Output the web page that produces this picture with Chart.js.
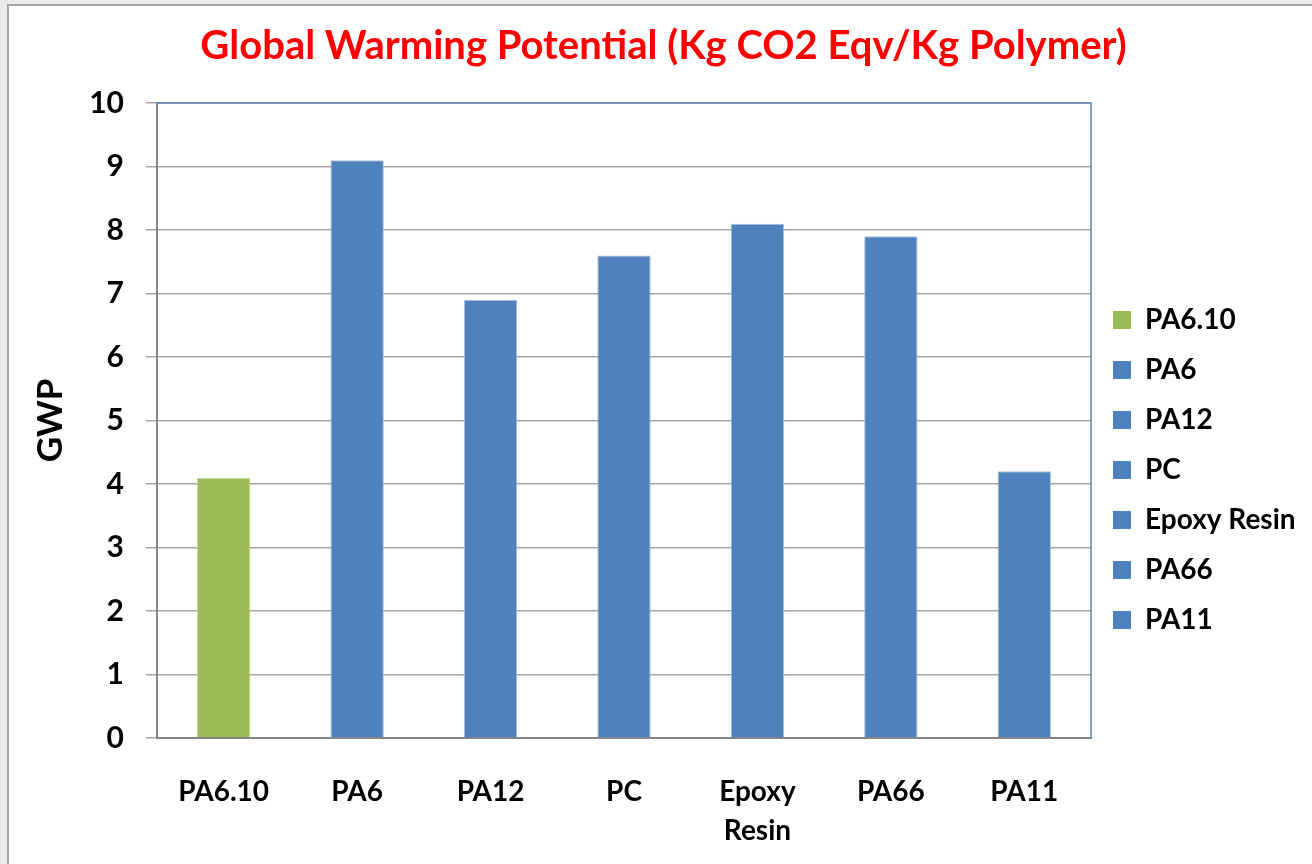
<!DOCTYPE html>
<html>
<head>
<meta charset="utf-8">
<script src="https://cdn.jsdelivr.net/npm/chart.js@4/dist/chart.umd.min.js"></script>
<style>
  html, body { margin: 0; padding: 0; background: #ebebeb; overflow: hidden; }
  .frame {
    position: absolute; left: 7px; top: 4px; width: 1400px; height: 1000px;
    border: 2px solid #a6a6a6; background: #ffffff;
  }
  .wrap { position: absolute; left: 0; top: 0; width: 1312px; height: 864px; }
</style>
</head>
<body>
<div class="frame"></div>
<div class="wrap"><canvas id="gwp"></canvas></div>
<script>
const polymers = ["PA6.10", "PA6", "PA12", "PC", ["Epoxy", "Resin"], "PA66", "PA11"];
const legendNames = ["PA6.10", "PA6", "PA12", "PC", "Epoxy Resin", "PA66", "PA11"];
const gwpValues = [4.1, 9.1, 6.9, 7.6, 8.1, 7.9, 4.2];
const yTicks = [0, 1, 2, 3, 4, 5, 6, 7, 8, 9, 10];

const GREEN = "#9bbb59";
const BLUE = "#4f81bd";
const barColors = polymers.map((p, i) => (i === 0 ? GREEN : BLUE));
const barEdges = polymers.map((p, i) => (i === 0 ? "#c3d69b" : "#a7bfde"));

// blue border on top and right of the plot area
const plotFrame = {
    id: "plotFrame",
    afterDraw(chart) {
        const { ctx, chartArea: a } = chart;
        ctx.save();
        ctx.strokeStyle = "#5b87c0";
        ctx.lineWidth = 1.5;
        ctx.beginPath();
        ctx.moveTo(a.left, a.top);
        ctx.lineTo(a.right, a.top);
        ctx.lineTo(a.right, a.bottom);
        ctx.stroke();
        ctx.restore();
    },
};

const ctx = document.getElementById("gwp").getContext("2d");

new Chart(ctx, {
    type: "bar",
    data: {
        labels: polymers,
        datasets: [
            {
                label: "GWP",
                data: gwpValues,
                backgroundColor: barColors,
                borderColor: barEdges,
                borderWidth: 1,
                barPercentage: 0.4,
                categoryPercentage: 1,
            },
        ],
    },
    options: {
        responsive: true,
        maintainAspectRatio: false,
        animation: false,
        layout: {
            padding: { left: 22, top: 0, right: 7, bottom: 0 },
        },
        scales: {
            x: {
                grid: { display: false, drawTicks: false },
                border: { display: true, color: "#868686", width: 2 },
                ticks: {
                    color: "#000000",
                    padding: 34,
                    maxRotation: 0,
                    autoSkip: false,
                    font: { family: "Lato", size: 28, weight: "bold", lineHeight: 1.4 },
                },
                afterFit: (scale) => { scale.height = 126; },
            },
            y: {
                min: 0,
                max: 10,
                afterBuildTicks: (scale) => { scale.ticks = yTicks.map((v) => ({ value: v })); },
                grid: {
                    color: "#a6a6a6",
                    lineWidth: 1.5,
                    tickLength: 11,
                },
                border: { display: true, color: "#868686", width: 2 },
                ticks: {
                    color: "#000000",
                    padding: 22,
                    font: { family: "Lato", size: 30, weight: "bold" },
                },
                title: {
                    display: true,
                    text: "GWP",
                    color: "#000000",
                    padding: { top: 8, bottom: 0 },
                    font: { family: "Lato", size: 35, weight: "bold" },
                },
                afterFit: (scale) => { scale.width = 135; },
            },
        },
        plugins: {
            title: {
                display: true,
                text: "Global Warming Potential (Kg CO2 Eqv/Kg Polymer)",
                color: "#ff0000",
                padding: { top: 22, bottom: 33 },
                font: { family: "Lato", size: 40, weight: "bold", lineHeight: 1.2 },
            },
            legend: {
                display: true,
                position: "right",
                align: "start",
                maxWidth: 214,
                title: {
                    display: true,
                    text: "",
                    padding: { top: 269.6, bottom: 0 },
                    font: { size: 12, lineHeight: 1.2 },
                },
                labels: {
                    color: "#000000",
                    boxWidth: 18,
                    boxHeight: 18,
                    padding: 22,
                    font: { family: "Lato", size: 28, weight: "bold" },
                    generateLabels: () =>
                        legendNames.map((name, i) => ({
                            text: name,
                            fillStyle: barColors[i],
                            strokeStyle: barColors[i],
                            fontColor: "#000000",
                            lineWidth: 0,
                            hidden: false,
                            index: i,
                        })),
                },
                onClick: () => {},
            },
            tooltip: { enabled: false },
        },
    },
    plugins: [plotFrame],
});
</script>
</body>
</html>
